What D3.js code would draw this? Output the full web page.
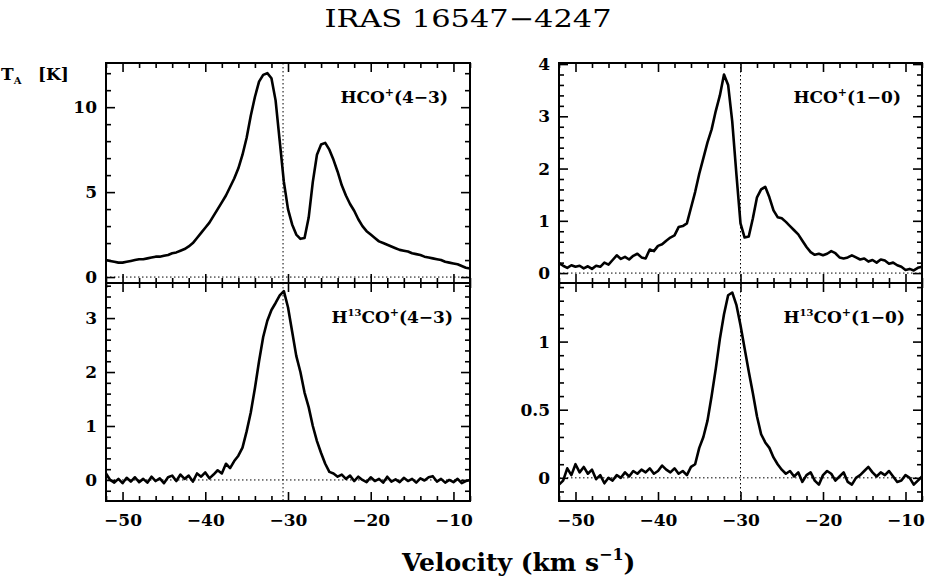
<!DOCTYPE html>
<html>
<head>
<meta charset="utf-8">
<script src="https://cdn.jsdelivr.net/npm/d3@7"></script>
<style>
  body { margin: 0; background: #fff; }
  svg { display: block; }
  text { font-family: "DejaVu Serif", "Liberation Serif", serif; fill: #000; }
</style>
</head>
<body>
<div id="chart"></div>
<script>
// channel grid (km/s)
const vStart = -52, vStep = 0.5;

// HCO+(4-3), T_A* [K]
const hco43 = [
  1.0, 0.95, 0.9, 0.85, 0.85, 0.9, 0.95, 1.0, 1.05, 1.05,
  1.1, 1.15, 1.2, 1.2, 1.25, 1.3, 1.4, 1.45, 1.55, 1.65,
  1.8, 2.0, 2.3, 2.6, 2.9, 3.2, 3.6, 4.0, 4.4, 4.8,
  5.3, 5.8, 6.4, 7.2, 8.2, 9.5, 10.6, 11.5, 11.9, 12.0,
  11.7, 10.4, 8.0, 5.6, 4.0, 3.1, 2.5, 2.25, 2.3, 3.5,
  5.6, 7.2, 7.8, 7.9, 7.5, 6.9, 6.2, 5.4, 4.8, 4.3,
  3.9, 3.4, 3.0, 2.7, 2.5, 2.3, 2.1, 2.0, 1.9, 1.8,
  1.7, 1.6, 1.55, 1.5, 1.4, 1.35, 1.3, 1.2, 1.15, 1.1,
  1.05, 1.0, 0.9, 0.85, 0.8, 0.75, 0.65, 0.55, 0.5
];

// HCO+(1-0)
const hco10 = [
  0.19, 0.14, 0.10, 0.15, 0.12, 0.14, 0.09, 0.13, 0.08, 0.14,
  0.12, 0.2, 0.16, 0.25, 0.34, 0.27, 0.31, 0.26, 0.33, 0.37,
  0.3, 0.28, 0.45, 0.42, 0.52, 0.55, 0.62, 0.68, 0.72, 0.88,
  0.9, 0.95, 1.25, 1.55, 1.9, 2.2, 2.5, 2.75, 3.1, 3.4,
  3.8, 3.6, 2.9, 1.9, 0.95, 0.68, 0.7, 1.05, 1.45, 1.6,
  1.65, 1.45, 1.2, 1.07, 1.05, 0.98, 0.9, 0.82, 0.74, 0.62,
  0.5, 0.4, 0.35, 0.37, 0.34, 0.37, 0.42, 0.38, 0.3, 0.28,
  0.3, 0.34, 0.3, 0.26, 0.28, 0.22, 0.25, 0.2, 0.26, 0.24,
  0.18, 0.2, 0.15, 0.12, 0.06, 0.08, 0.05, 0.1, 0.12
];

// H13CO+(4-3)
const h13co43 = [
  0.12, 0.0, -0.05, 0.02, -0.06, 0.04, -0.03, 0.05, -0.04, 0.02,
  -0.05, 0.06, -0.02, 0.03, -0.06, 0.05, 0.08, -0.02, 0.1, 0.02,
  0.08, -0.03, 0.12, 0.06, 0.14, 0.03, 0.1, 0.18, 0.12, 0.3,
  0.22, 0.35, 0.45, 0.6, 0.9, 1.25, 1.7, 2.2, 2.65, 2.95,
  3.15, 3.28, 3.42, 3.5, 3.2, 2.75, 2.3, 2.0, 1.62, 1.35,
  1.0, 0.72, 0.5, 0.3, 0.15, 0.12, 0.06, 0.1, 0.02, 0.08,
  -0.02, 0.06, 0.0, -0.04, 0.05, -0.02, 0.02, -0.05, 0.06, -0.03,
  0.01, -0.04, 0.04, -0.02, 0.02, -0.05, 0.03, -0.01, 0.05, 0.07,
  -0.03, 0.02, -0.05, 0.0, -0.04, 0.02, -0.06, -0.02, 0.0
];

// H13CO+(1-0)
const h13co10 = [
  -0.05, -0.02, 0.07, 0.02, 0.1, 0.04, 0.08, 0.03, 0.06, -0.01,
  0.02, -0.04, 0.0, -0.02, 0.02, 0.0, 0.04, 0.01, 0.05, 0.03,
  0.06, 0.04, 0.07, 0.03, 0.05, 0.09, 0.06, 0.04, 0.07, 0.03,
  0.05, 0.02, 0.08, 0.1, 0.22, 0.3, 0.42, 0.6, 0.8, 1.02,
  1.2, 1.34, 1.36, 1.27, 1.12, 0.95, 0.78, 0.62, 0.45, 0.32,
  0.26, 0.22, 0.15, 0.1, 0.06, 0.03, 0.05, 0.01, 0.04, -0.03,
  0.02, 0.04, -0.02, -0.05, 0.02, 0.05, 0.03, -0.02, 0.01, 0.04,
  -0.03, -0.05, 0.0, 0.02, 0.05, 0.08, 0.04, 0.01, 0.04, 0.02,
  0.05, 0.01, -0.03, -0.02, 0.02, 0.0, -0.05, -0.02, 0.01
];

const xMajor = [-50, -40, -30, -20, -10];
const xMinor = d3.range(-52, -7, 2).filter(v => v % 10 !== 0);

const width = 927, height = 586;
const svg = d3.select('#chart').append('svg')
  .attr('width', width)
  .attr('height', height);

const panels = [
  { data: hco43, iso: '', line: '(4\u22123)',
    x0: 106, x1: 470, y0: 63, y1: 283, yDomain: [-0.35, 12.6],
    yMajor: [0, 5, 10], yStep: 1, vsys: -30.6, xLabels: false, labelX: 448 },
  { data: hco10, iso: '', line: '(1\u22120)',
    x0: 559, x1: 922, y0: 63, y1: 283, yDomain: [-0.19, 4.02],
    yMajor: [0, 1, 2, 3, 4], yStep: 0.2, vsys: -30.0, xLabels: false, labelX: 901 },
  { data: h13co43, iso: '13', line: '(4\u22123)',
    x0: 106, x1: 470, y0: 283, y1: 501, yDomain: [-0.39, 3.65],
    yMajor: [0, 1, 2, 3], yStep: 0.2, vsys: -30.6, xLabels: true, labelX: 453 },
  { data: h13co10, iso: '13', line: '(1\u22120)',
    x0: 559, x1: 922, y0: 283, y1: 501, yDomain: [-0.17, 1.43],
    yMajor: [0, 0.5, 1], yStep: 0.1, vsys: -30.0, xLabels: true, labelX: 905 }
];

function tickAxis(g, axis, scale, values, size) {
  g.call(axis(scale).tickValues(values).tickSize(size).tickFormat(''));
  g.select('.domain').remove();
  g.selectAll('.tick line').attr('stroke', '#000').attr('stroke-width', 1.6);
}

panels.forEach(p => {
  const x = d3.scaleLinear().domain([-52, -8]).range([p.x0, p.x1]);
  const y = d3.scaleLinear().domain(p.yDomain).range([p.y1, p.y0]);
  const g = svg.append('g');

  const pts = p.data.map((t, i) => ({ v: vStart + i * vStep, t }));

  // reference lines
  g.append('line')
    .attr('x1', x(-52)).attr('x2', x(-8))
    .attr('y1', y(0)).attr('y2', y(0))
    .attr('stroke', '#000').attr('stroke-width', 1)
    .attr('stroke-dasharray', '1.5,2.5');
  g.append('line')
    .attr('x1', x(p.vsys)).attr('x2', x(p.vsys))
    .attr('y1', p.y0).attr('y2', p.y1)
    .attr('stroke', '#000').attr('stroke-width', 1)
    .attr('stroke-dasharray', '1.5,2.5');

  // spectrum
  const line = d3.line()
    .x(d => x(d.v))
    .y(d => y(d.t));
  g.append('path')
    .datum(pts)
    .attr('fill', 'none')
    .attr('stroke', '#000')
    .attr('stroke-width', 2.6)
    .attr('stroke-linejoin', 'round')
    .attr('d', line);

  // ticks on all four sides, pointing inward
  const lo = Math.ceil(p.yDomain[0] / p.yStep);
  const hi = Math.floor(p.yDomain[1] / p.yStep);
  const yMinor = d3.range(lo, hi + 1)
    .map(k => +(k * p.yStep).toFixed(3))
    .filter(v => !p.yMajor.includes(v));

  tickAxis(g.append('g').attr('transform', `translate(0,${p.y1})`), d3.axisBottom, x, xMajor, -9);
  tickAxis(g.append('g').attr('transform', `translate(0,${p.y1})`), d3.axisBottom, x, xMinor, -5);
  tickAxis(g.append('g').attr('transform', `translate(0,${p.y0})`), d3.axisTop, x, xMajor, -9);
  tickAxis(g.append('g').attr('transform', `translate(0,${p.y0})`), d3.axisTop, x, xMinor, -5);
  tickAxis(g.append('g').attr('transform', `translate(${p.x0},0)`), d3.axisLeft, y, p.yMajor, -9);
  tickAxis(g.append('g').attr('transform', `translate(${p.x0},0)`), d3.axisLeft, y, yMinor, -5);
  tickAxis(g.append('g').attr('transform', `translate(${p.x1},0)`), d3.axisRight, y, p.yMajor, -9);
  tickAxis(g.append('g').attr('transform', `translate(${p.x1},0)`), d3.axisRight, y, yMinor, -5);

  // frame
  g.append('rect')
    .attr('x', p.x0).attr('y', p.y0)
    .attr('width', p.x1 - p.x0).attr('height', p.y1 - p.y0)
    .attr('fill', 'none').attr('stroke', '#000').attr('stroke-width', 2);

  // tick labels
  const yl = g.append('g').attr('transform', `translate(${p.x0},0)`)
    .call(d3.axisLeft(y).tickValues(p.yMajor).tickSize(0).tickPadding(9).tickFormat(d3.format('~g')));
  yl.select('.domain').remove();
  yl.selectAll('text').style('font-size', '17px').style('font-weight', 'bold')
    .style('font-family', '"DejaVu Serif", serif').attr('fill', '#000');

  if (p.xLabels) {
    const xl = g.append('g').attr('transform', `translate(0,${p.y1})`)
      .call(d3.axisBottom(x).tickValues(xMajor).tickSize(0).tickPadding(13).tickFormat(d3.format('d')));
    xl.select('.domain').remove();
    xl.selectAll('text').style('font-size', '17px').style('font-weight', 'bold')
      .style('font-family', '"DejaVu Serif", serif').attr('fill', '#000');
  }

  // transition label
  const lab = g.append('text')
    .attr('x', p.labelX).attr('y', p.y0 + 40)
    .attr('text-anchor', 'end')
    .style('font-size', '17px').style('font-weight', 'bold');
  lab.append('tspan').text('H');
  if (p.iso) {
    lab.append('tspan').attr('dy', -7).style('font-size', '10px').text(p.iso);
    lab.append('tspan').attr('dy', 7).text('CO');
  } else {
    lab.append('tspan').text('CO');
  }
  lab.append('tspan').attr('dy', -7).style('font-size', '11px').text('+');
  lab.append('tspan').attr('dy', 7).text(p.line);
});

// title
svg.append('text')
  .attr('x', 468).attr('y', 27)
  .attr('text-anchor', 'middle')
  .attr('textLength', 287).attr('lengthAdjust', 'spacingAndGlyphs')
  .style('font-size', '24px').style('font-weight', 'normal')
  .text('IRAS 16547\u22124247');

// y-axis title
const yt = svg.append('text')
  .attr('x', 1).attr('y', 80)
  .style('font-size', '17px').style('font-weight', 'bold');
yt.append('tspan').text('T');
yt.append('tspan').attr('dy', 4).style('font-size', '10px').text('A');
yt.append('tspan').attr('x', 38).attr('dy', -4).text('[K]');

// x-axis title
const xt = svg.append('text')
  .attr('x', 402).attr('y', 571)
  .style('font-size', '25px').style('font-weight', 'bold');
xt.append('tspan').text('Velocity (km s');
xt.append('tspan').attr('dy', -11).style('font-size', '16px').text('\u22121');
xt.append('tspan').attr('dy', 11).text(')');
</script>
</body>
</html>
